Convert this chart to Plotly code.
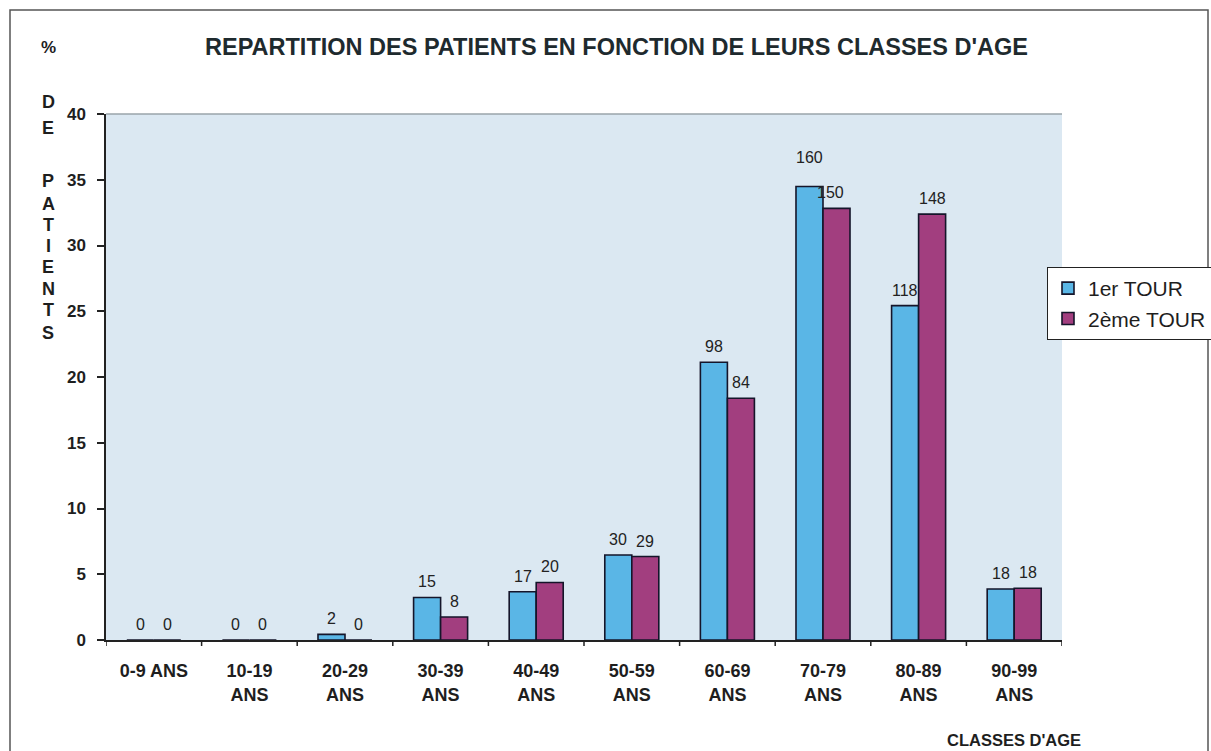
import plotly.graph_objects as go

# Age classes and patient counts for each round
categories = ["0-9 ANS", "10-19<br>ANS", "20-29<br>ANS", "30-39<br>ANS", "40-49<br>ANS",
              "50-59<br>ANS", "60-69<br>ANS", "70-79<br>ANS", "80-89<br>ANS", "90-99<br>ANS"]
counts_tour1 = [0, 0, 2, 15, 17, 30, 98, 160, 118, 18]
counts_tour2 = [0, 0, 0, 8, 20, 29, 84, 150, 148, 18]
total_tour1 = 464
total_tour2 = 457
y_ticks = [0, 5, 10, 15, 20, 25, 30, 35, 40]

pct_tour1 = [c / total_tour1 * 100 for c in counts_tour1]
pct_tour2 = [c / total_tour2 * 100 for c in counts_tour2]

W, H = 1211, 751
L, R, T, B = 106, 1062, 114, 640  # plot area in pixels
FONT = "Liberation Sans, Arial, sans-serif"
INK = "#1e1e1e"
BLUE = "#5ab6e6"
MAGENTA = "#a23e7f"
OUTLINE = "#15152a"
BARGAP = 0.435


def px_x(p):
    return (p - L) / (R - L)


def px_y(p):
    return (B - p) / (B - T)


fig = go.Figure()
fig.add_bar(name="1er TOUR", x=list(range(len(categories))), y=pct_tour1,
            marker=dict(color=BLUE, line=dict(color=OUTLINE, width=1.6)))
fig.add_bar(name="2ème TOUR", x=list(range(len(categories))), y=pct_tour2,
            marker=dict(color=MAGENTA, line=dict(color=OUTLINE, width=1.6)))

annotations = []
# count labels above each bar
half = (1 - BARGAP) / 4
for i in range(len(categories)):
    for off, pct, cnt in ((-half, pct_tour1[i], counts_tour1[i]), (half, pct_tour2[i], counts_tour2[i])):
        ys, xs = 5, 0
        if cnt == 160:
            ys = 19
        if cnt == 150:
            xs = -6
        annotations.append(dict(x=i + off, y=pct, xref="x", yref="y", text=str(cnt),
                                showarrow=False, yanchor="bottom", yshift=ys, xshift=xs,
                                font=dict(family=FONT, size=16, color="#222222")))

# title and axis captions
annotations.append(dict(x=px_x(616), y=px_y(47), xref="paper", yref="paper",
                        text="REPARTITION DES PATIENTS EN FONCTION DE LEURS CLASSES D'AGE",
                        showarrow=False, xanchor="center", yanchor="middle",
                        font=dict(family=FONT, size=23.5, color="#1e2a2e", weight="bold")))
annotations.append(dict(x=px_x(48), y=px_y(47), xref="paper", yref="paper", text="%",
                        showarrow=False, xanchor="center", yanchor="middle",
                        font=dict(family=FONT, size=17, color=INK, weight="bold")))
letters = [("D", 102), ("E", 128), ("P", 181), ("A", 204), ("T", 225), ("I", 246),
           ("E", 267), ("N", 289), ("T", 310), ("S", 333)]
for ch, yy in letters:
    annotations.append(dict(x=px_x(48), y=px_y(yy), xref="paper", yref="paper", text=ch,
                            showarrow=False, xanchor="center", yanchor="middle",
                            font=dict(family=FONT, size=18, color=INK, weight="bold")))
annotations.append(dict(x=px_x(1014), y=px_y(740), xref="paper", yref="paper", text="CLASSES D'AGE",
                        showarrow=False, xanchor="center", yanchor="middle",
                        font=dict(family=FONT, size=16.5, color=INK, weight="bold")))

shapes = [
    # outer frame
    dict(type="rect", xref="paper", yref="paper", x0=px_x(10), x1=px_x(1208),
         y0=px_y(770), y1=px_y(10), line=dict(color="#555555", width=1.5), layer="below"),
    # top edge of the plot area
    dict(type="line", xref="paper", yref="paper", x0=0, x1=1, y0=1, y1=1,
         line=dict(color="#9aa4aa", width=1.5)),
]
# tick marks between age classes
for k in range(len(categories) + 1):
    shapes.append(dict(type="line", xref="x", yref="paper", x0=k - 0.5, x1=k - 0.5,
                       y0=0, y1=-6 / (B - T), line=dict(color="#222222", width=1.5)))

fig.update_layout(
    width=W, height=H,
    margin=dict(l=L, r=W - R, t=T, b=H - B, pad=0, autoexpand=False),
    paper_bgcolor="white", plot_bgcolor="#dbe8f2",
    barmode="group", bargap=BARGAP, bargroupgap=0,
    font=dict(family=FONT, color=INK),
    showlegend=True,
    legend=dict(x=px_x(1047), y=px_y(267), xanchor="left", yanchor="top",
                bgcolor="white", bordercolor="#222222", borderwidth=1,
                font=dict(family=FONT, size=21, color=INK),
                itemwidth=30, tracegroupgap=0),
    annotations=annotations, shapes=shapes,
)
fig.update_xaxes(
    type="linear", range=[-0.5, len(categories) - 0.5],
    tickmode="array", tickvals=list(range(len(categories))), ticktext=categories,
    ticks="", showline=True, linecolor="#222222", linewidth=1.5,
    showgrid=False, zeroline=False, ticklabelstandoff=14,
    tickfont=dict(family=FONT, size=18, color=INK, weight="bold"),
)
fig.update_yaxes(
    range=[0, 40], tickmode="array", tickvals=y_ticks,
    ticks="outside", ticklen=7, tickwidth=1.5, tickcolor="#222222",
    showline=True, linecolor="#222222", linewidth=1.5,
    showgrid=False, zeroline=False, ticklabelstandoff=8,
    tickfont=dict(family=FONT, size=17, color=INK, weight="bold"),
)

fig.write_html("out.html")
